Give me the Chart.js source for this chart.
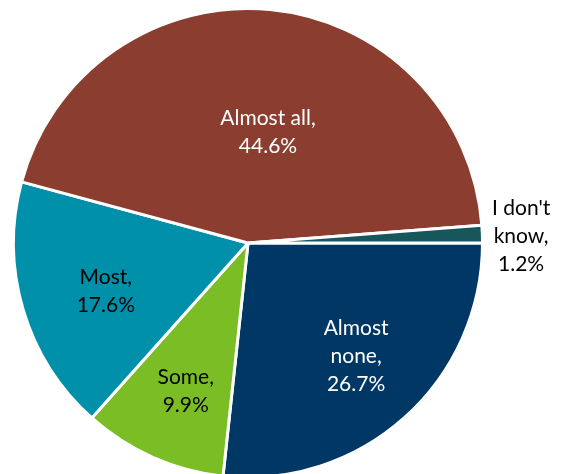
<!DOCTYPE html>
<html>
<head>
<meta charset="utf-8">
<script src="https://cdn.jsdelivr.net/npm/chart.js@4.4.1/dist/chart.umd.min.js"></script>
<style>
  html, body { margin: 0; padding: 0; background: #fff; overflow: hidden; }
  #wrap { position: absolute; left: 0; top: 0; width: 571px; height: 484px; }
</style>
</head>
<body>
<div id="wrap"><canvas id="pieChart"></canvas></div>
<script>
// Chart data
const categories = ['Almost none', 'Some', 'Most', 'Almost all', "I don't know"];
const shares = [26.7, 9.9, 17.6, 44.6, 1.2];
const sliceColors = ['#003764', '#7ABD25', '#0090AA', '#8B3E2F', '#17575B'];

// label look per slice (radius fraction, angle nudge in degrees, text colour)
const labelRadius = [0.668, 0.684, 0.64, 0.482, 1.165];
const labelNudge = [-1.7, -1.1, -2.1, 4.8, 0.7];
const labelColors = ['#ffffff', '#000000', '#000000', '#ffffff', '#000000'];
const labelLines = [
  ['Almost', 'none,', '26.7%'],
  ['Some,', '9.9%'],
  ['Most,', '17.6%'],
  ['Almost all,', '44.6%'],
  ["I don't", 'know,', '1.2%']
];

// Draw the slice labels
const sliceLabels = {
  id: 'sliceLabels',
  afterDatasetsDraw(chart) {
    const ctx = chart.ctx;
    const arcs = chart.getDatasetMeta(0).data;
    ctx.save();
    ctx.font = '21px Lato, "Open Sans", sans-serif';
    ctx.textAlign = 'center';
    ctx.textBaseline = 'middle';
    arcs.forEach((arc, i) => {
      const mid = (arc.startAngle + arc.endAngle) / 2 + labelNudge[i] * Math.PI / 180;
      const r = arc.outerRadius * labelRadius[i];
      const x = arc.x + Math.cos(mid) * r;
      const y = arc.y + Math.sin(mid) * r;
      const lines = labelLines[i];
      const lh = 28;
      ctx.fillStyle = labelColors[i];
      lines.forEach((t, k) => {
        ctx.fillText(t, x, y + (k - (lines.length - 1) / 2) * lh);
      });
    });
    ctx.restore();
  }
};

const ctx = document.getElementById('pieChart').getContext('2d');
new Chart(ctx, {
  type: 'pie',
  data: {
    labels: categories,
    datasets: [{
      data: shares,
      backgroundColor: sliceColors,
      borderColor: '#ffffff',
      borderWidth: 3
    }]
  },
  options: {
    responsive: true,
    maintainAspectRatio: false,
    animation: false,
    rotation: 90,
    layout: { padding: { left: 12, right: 87, top: 7, bottom: 5 } },
    plugins: {
      legend: { display: false },
      tooltip: { enabled: false }
    }
  },
  plugins: [sliceLabels]
});
</script>
</body>
</html>
